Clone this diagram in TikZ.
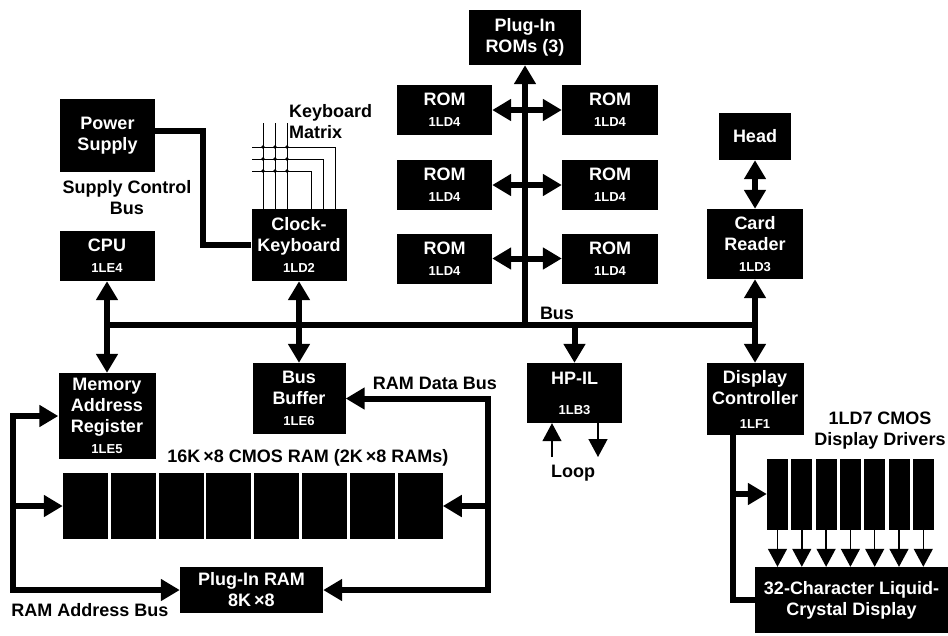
\documentclass[tikz,border=0pt]{standalone}
\usepackage{fontspec}
\setmainfont{Liberation Sans}
\usetikzlibrary{arrows.meta}
\newcommand\partno[1]{{\fontsize{13}{16}\selectfont #1}}

\begin{document}
\begin{tikzpicture}[x=1pt, y=-1pt, >={Triangle[length=19pt,width=21pt]},
  every node/.append style={font=\bfseries\fontsize{18}{21}\selectfont},
  blk/.style={fill=black, text=white, align=center, inner sep=0pt},
  chip/.style={fill=black, inner sep=0pt},
  lbl/.style={align=center, inner sep=0pt},
  busline/.style={line width=6pt},
  kbwire/.style={line width=1pt},
  thinlink/.style={line width=1.4pt, -{Triangle[length=18pt,width=19pt]}}]
  \useasboundingbox (0,0) rectangle (948,635);

  % boxes
  \node[blk, minimum width=95, minimum height=73] (ps) at (107.5,135.5) {Power\\Supply};
  \node[blk, minimum width=95, minimum height=50] (cpu) at (107,256) {CPU\\\partno{1LE4}};
  \node[blk, minimum width=95, minimum height=72] (ckb) at (299,245) {Clock-\\Keyboard\\\partno{1LD2}};
  \node[blk, minimum width=112, minimum height=55] (proms) at (525,37.5) {Plug-In\\ROMs (3)};
  \foreach \r/\y in {1/110,2/185,3/258.5} {
    \node[blk, minimum width=95, minimum height=50] (romA\r) at (444.5,\y) {ROM\\\partno{1LD4}};
    \node[blk, minimum width=96, minimum height=50] (romB\r) at (610,\y) {ROM\\\partno{1LD4}};
    \draw[busline,<->] (romA\r) -- (romB\r);
  }
  \node[blk, minimum width=72, minimum height=47] (head) at (755,136.5) {Head};
  \node[blk, minimum width=96, minimum height=70] (card) at (755,244) {Card\\Reader\\\partno{1LD3}};
  \node[blk, minimum width=97, minimum height=86] (mar) at (107,416) {Memory\\Address\\Register\\\partno{1LE5}};
  \node[blk, minimum width=93, minimum height=71] (buf) at (299,398.5) {Bus\\Buffer\\\partno{1LE6}};
  \node[blk, minimum width=95, minimum height=60] (hpil) at (574.5,393) {HP-IL\\[9pt]\partno{1LB3}};
  \node[blk, minimum width=97, minimum height=72] (dc) at (755,399) {Display\\Controller\\[3pt]\partno{1LF1}};
  \foreach \i in {1,...,8} \node[chip, minimum width=45, minimum height=66] (ram\i) at ({85.5+(\i-1)*47.8},506) {};
  \node[blk, minimum width=143, minimum height=46] (pram) at (251.5,590) {Plug-In RAM\\8K\,×8};
  \foreach \i in {1,...,7} \node[chip, minimum width=21, minimum height=71] (drv\i) at ({777.5+(\i-1)*24.3},494) {};
  \node[blk, minimum width=193, minimum height=66] (lcd) at (851.5,600) {32-Character Liquid-\\Crystal Display};

  % labels
  \node[lbl] (scb) at (127,198) {Supply Control\\Bus};
  \node[lbl, anchor=west, align=left] (kbm) at (289,122) {Keyboard\\Matrix};
  \node[lbl] (buslbl) at (557,313) {Bus};
  \node[lbl] (rdb) at (435,383) {RAM Data Bus};
  \node[lbl] (rab) at (90,610) {RAM Address Bus};
  \node[lbl] (ramlbl) at (308,458) {16K\,×8 CMOS RAM (2K\,×8 RAMs)};
  \node[lbl] (looplbl) at (573,473) {Loop};
  \node[lbl] (drvlbl) at (880,431) {1LD7 CMOS\\Display Drivers};

  % main bus
  \coordinate (busL) at (107,325); \coordinate (busR) at (755,325);
  \draw[busline] (busL) -- (busR);
  \draw[busline,<->] (cpu) -- (mar);
  \draw[busline,<->] (ckb) -- (buf);
  \draw[busline,<->] (head) -- (card);
  \draw[busline,<->] (card) -- (dc);
  \draw[busline,->] (proms.south |- busL) -- (proms.south);
  \draw[busline,->] (hpil.north |- busL) -- (hpil.north);

  % supply control bus
  \coordinate (psbend) at (203,131);
  \draw[busline] (ps.east |- psbend) -- (psbend) -- (psbend |- ckb.west) -- (ckb.west);

  % keyboard matrix
  \foreach \x in {263,275,287} \draw[kbwire] (\x,123) -- (\x,0 |- ckb.north);
  \foreach \y/\x in {147/335,159/323,171/311} \draw[kbwire] (252,\y) -- (\x,\y) -- (\x,0 |- ckb.north);
  \foreach \x in {263,275,287} \foreach \y in {147,159,171} \fill (\x,\y) circle (1.9);

  % RAM buses
  \coordinate (abus) at (13,590); \coordinate (dbus) at (488,590);
  \draw[busline,<->] (mar.west) -- (abus |- mar.west) -- (abus) -- (pram.west);
  \draw[busline,->] (abus |- ram1.west) -- (ram1.west);
  \draw[busline,<->] (buf.east) -- (dbus |- buf.east) -- (dbus) -- (pram.east);
  \draw[busline,->] (dbus |- ram8.east) -- (ram8.east);

  % HP-IL loop
  \coordinate (loopin) at (552,457); \coordinate (loopout) at (598,457);
  \draw[thinlink] (loopin) -- (loopin |- hpil.south);
  \draw[thinlink] (loopout |- hpil.south) -- (loopout);

  % display
  \coordinate (dctap) at (733,494);
  \draw[busline] (dctap |- dc.south) -- (dctap |- lcd.west) -- (lcd.west);
  \draw[busline,->] (dctap) -- (drv1.west);
  \foreach \i in {1,...,7} \draw[thinlink] (drv\i.south) -- (drv\i.south |- lcd.north);
\end{tikzpicture}
\end{document}
